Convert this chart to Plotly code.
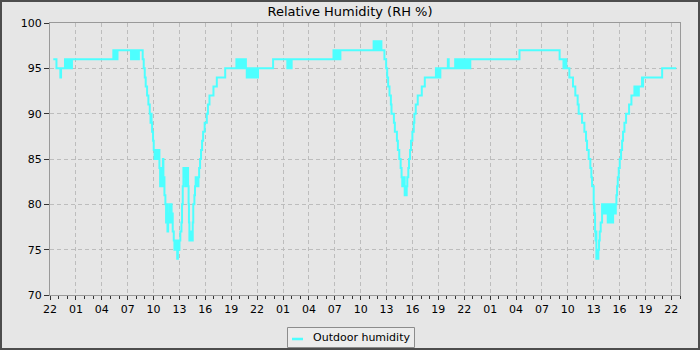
import pandas as pd
import plotly.graph_objects as go

# ---- data: (hours after the first 22:00, relative humidity %) ----
start_time = "2024-05-01 22:00"

night1 = [(0.38, 96), (0.75, 95), (1.20, 94), (1.28, 95), (1.74, 96), (1.84, 95), (1.94, 96), (2.04, 95),
          (2.14, 96), (2.24, 95), (2.34, 96), (2.44, 95), (2.54, 96), (2.63, 96),
          (7.34, 97), (7.42, 96), (7.50, 97), (7.58, 96), (7.66, 97), (7.74, 96), (7.82, 97), (7.90, 97),
          (9.39, 96), (9.49, 97), (9.59, 96), (9.69, 97), (9.79, 96), (9.89, 97), (9.99, 96), (10.09, 97),
          (10.19, 96), (10.30, 97)]

dip1 = [(10.74, 96), (10.86, 95), (10.98, 94), (11.09, 93), (11.25, 92), (11.40, 91), (11.56, 90), (11.65, 89),
        (11.71, 90), (11.77, 89), (11.83, 88), (11.94, 87), (12.02, 86),
        (12.12, 85), (12.22, 86), (12.32, 85), (12.42, 86), (12.52, 85), (12.60, 86), (12.68, 84),
        (12.76, 82), (12.84, 84), (12.92, 82), (13.00, 83), (13.08, 85), (13.14, 82), (13.20, 83), (13.26, 81),
        (13.37, 80), (13.45, 78), (13.53, 80), (13.61, 77), (13.69, 79), (13.77, 78), (13.85, 80), (13.93, 78),
        (14.01, 80), (14.09, 78), (14.15, 79), (14.22, 77), (14.34, 76),
        (14.42, 75), (14.50, 76), (14.58, 75), (14.66, 76), (14.74, 74), (14.82, 75), (14.90, 76), (14.96, 75),
        (15.00, 76), (15.10, 77), (15.23, 78), (15.30, 80), (15.38, 82), (15.46, 84),
        (15.54, 83), (15.62, 84), (15.70, 82), (15.78, 84), (15.86, 83), (15.94, 84), (16.00, 82), (16.06, 80),
        (16.10, 78), (16.15, 76), (16.23, 77), (16.31, 76), (16.39, 77), (16.47, 76), (16.54, 78), (16.60, 80),
        (16.73, 81), (16.80, 82), (16.88, 83), (16.96, 82), (17.04, 83), (17.12, 82), (17.20, 83), (17.28, 84),
        (17.39, 85), (17.50, 86), (17.62, 87), (17.74, 88), (17.92, 89), (18.17, 90), (18.30, 91), (18.48, 92),
        (18.94, 93), (19.33, 94), (20.30, 95)]

night2 = [(21.60, 96), (21.70, 95), (21.80, 96), (21.90, 95), (22.00, 96), (22.10, 95), (22.20, 96), (22.30, 95),
          (22.40, 96), (22.50, 95), (22.60, 96), (22.70, 95), (22.80, 94),
          (22.90, 95), (23.00, 94), (23.10, 95), (23.20, 94), (23.30, 95), (23.40, 94), (23.50, 95), (23.60, 94),
          (23.70, 95), (23.80, 94), (23.90, 95), (24.00, 94), (24.10, 95),
          (25.85, 96), (27.50, 95), (27.60, 96), (27.70, 95), (27.80, 96), (27.90, 95), (28.00, 96),
          (32.85, 97), (32.95, 96), (33.05, 97), (33.15, 96), (33.25, 97), (33.35, 96), (33.45, 97), (33.55, 96),
          (33.65, 97),
          (37.50, 98), (37.60, 97), (37.70, 98), (37.80, 97), (37.90, 98), (38.00, 97), (38.10, 98), (38.20, 97),
          (38.30, 98), (38.40, 97)]

dip2 = [(38.75, 96), (38.95, 95), (39.07, 94), (39.18, 93), (39.34, 92), (39.50, 91), (39.57, 90), (39.85, 89),
        (39.96, 88), (40.20, 87), (40.31, 86), (40.47, 85), (40.63, 84), (40.74, 83),
        (40.82, 82), (40.90, 83), (40.98, 82), (41.06, 83), (41.10, 81), (41.18, 82), (41.26, 81), (41.33, 82),
        (41.40, 83), (41.52, 84), (41.60, 85), (41.72, 86), (41.83, 87), (41.99, 88), (42.15, 89), (42.22, 90),
        (42.38, 91), (42.61, 92), (43.08, 93), (43.43, 94),
        (44.72, 95), (44.80, 94), (44.88, 95), (44.96, 94), (45.04, 95), (45.12, 94), (45.23, 95),
        (46.10, 96), (46.20, 95),
        (46.95, 96), (47.05, 95), (47.15, 96), (47.25, 95), (47.35, 96), (47.45, 95), (47.55, 96), (47.65, 95),
        (47.75, 96), (47.85, 95), (47.95, 96), (48.05, 95), (48.15, 96), (48.25, 95), (48.35, 96), (48.45, 95),
        (48.55, 96), (48.65, 95), (48.70, 96)]

dip3 = [(54.40, 97), (59.05, 96), (59.50, 95), (59.58, 96), (59.66, 95), (59.74, 96), (59.83, 95), (60.18, 94),
        (60.60, 93), (60.87, 92), (61.14, 91), (61.26, 90), (61.65, 89), (61.92, 88), (62.11, 87), (62.23, 86),
        (62.42, 85), (62.61, 84), (62.73, 83), (62.81, 82), (63.00, 80), (63.08, 79), (63.16, 77), (63.22, 76),
        (63.28, 77), (63.31, 74), (63.38, 75), (63.46, 74), (63.54, 75), (63.62, 76), (63.70, 77), (63.81, 78),
        (63.97, 80), (64.05, 79), (64.13, 80), (64.21, 79), (64.29, 80), (64.37, 79), (64.45, 80), (64.53, 79),
        (64.63, 78), (64.70, 80), (64.78, 78), (64.86, 80), (64.94, 79), (65.05, 78), (65.13, 80), (65.21, 78),
        (65.25, 80), (65.33, 79), (65.41, 80), (65.49, 79), (65.56, 80),
        (65.63, 81), (65.71, 82), (65.79, 83), (65.90, 84), (66.02, 85), (66.17, 86), (66.29, 87), (66.40, 88),
        (66.56, 89), (66.75, 90), (67.10, 91), (67.37, 92), (67.72, 93), (67.80, 92), (67.88, 93), (67.96, 92),
        (68.04, 93), (68.12, 92), (68.23, 93), (68.60, 94), (68.66, 93), (68.72, 94), (70.93, 95), (72.56, 95)]

y_ticks = [70, 75, 80, 85, 90, 95, 100]
series_name = "Outdoor humidity"
title_text = "Relative Humidity (RH %)"

# ---- build figure ----
readings = night1 + dip1 + night2 + dip2 + dip3
base = pd.Timestamp(start_time)
times = [base + pd.Timedelta(hours=h) for h, _ in readings]
values = [v for _, v in readings]

BG = "#e6e6e6"
LINE = "#4dffff"
W, H = 700, 350
L, R, T, B = 50, 20, 23, 55
pw, ph = W - L - R, H - T - B


def px(x):
    return (x - L) / pw


def py(y):
    return (H - B - y) / ph


fig = go.Figure()
fig.add_trace(go.Scatter(x=times, y=values, mode="lines", line=dict(color=LINE, width=2, shape="hv"),
                         name=series_name, showlegend=False))

shapes = [
    # outer frame of the image
    dict(type="rect", xref="paper", yref="paper", x0=px(1), x1=px(W - 1), y0=py(1), y1=py(H - 1),
         line=dict(color="#4d4d4d", width=2), layer="above"),
    # legend box
    dict(type="rect", xref="paper", yref="paper", x0=px(287.5), x1=px(414.5), y0=py(327.5), y1=py(347.5),
         line=dict(color="#8c8c8c", width=1), fillcolor="#ececec", layer="above"),
    dict(type="line", xref="paper", yref="paper", x0=px(292), x1=px(303), y0=py(339), y1=py(339),
         line=dict(color=LINE, width=2.5), layer="above"),
]

fig.update_layout(
    width=W, height=H,
    margin=dict(l=L, r=R, t=T, b=B),
    paper_bgcolor=BG, plot_bgcolor=BG,
    font=dict(family="DejaVu Sans", size=11, color="#000000"),
    title=dict(text=title_text, x=0.5, xanchor="center", y=1 - 11.5 / H, yanchor="middle",
               yref="container", font=dict(size=13, family="DejaVu Sans", color="#000000")),
    shapes=shapes,
    annotations=[dict(text=series_name, xref="paper", yref="paper", x=px(311), y=py(337.5),
                      xanchor="left", yanchor="middle", showarrow=False,
                      font=dict(size=11, family="DejaVu Sans", color="#000000"))],
    showlegend=False,
)

fig.update_xaxes(
    type="date",
    range=[base, base + pd.Timedelta(hours=73)],
    tick0=base, dtick=3 * 3600 * 1000, tickformat="%H",
    showgrid=True, gridcolor="#bdbdbd", griddash="4px,3px", gridwidth=1,
    showline=True, linecolor="#999999", linewidth=1, mirror=True,
    ticks="outside", ticklen=4, tickcolor="#333333",
    minor=dict(dtick=3600 * 1000, ticks="outside", ticklen=3, tickcolor="#333333", showgrid=False),
    zeroline=False,
)
fig.update_yaxes(
    range=[70, 100], tickvals=y_ticks,
    showgrid=True, gridcolor="#bdbdbd", griddash="4px,3px", gridwidth=1,
    showline=True, linecolor="#999999", linewidth=1, mirror=True,
    ticks="outside", ticklen=5, tickcolor="#333333",
    zeroline=False,
)

fig.write_html("out.html")
